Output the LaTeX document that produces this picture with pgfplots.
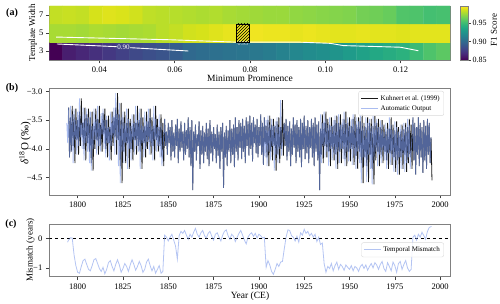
\documentclass[border=0pt]{standalone}
\usepackage{fontspec}
\setmainfont{Liberation Serif}
\usepackage{pgfplots}
\usepackage{pgfplotstable}
\pgfplotsset{compat=1.18}
\usetikzlibrary{patterns}
\definecolor{frame}{RGB}{128,128,128}
\definecolor{autoblue}{RGB}{118,148,232}

\pgfplotstableread{
x y c
0.02847 3 0.850
0.03202 3 0.862
0.03556 3 0.866
0.03911 3 0.870
0.04266 3 0.874
0.04620 3 0.878
0.04975 3 0.882
0.05330 3 0.885
0.05685 3 0.888
0.06039 3 0.893
0.06394 3 0.900
0.06749 3 0.902
0.07103 3 0.904
0.07458 3 0.906
0.07813 3 0.907
0.08167 3 0.909
0.08522 3 0.911
0.08877 3 0.915
0.09231 3 0.918
0.09586 3 0.921
0.09941 3 0.923
0.10295 3 0.926
0.10650 3 0.930
0.11005 3 0.934
0.11359 3 0.938
0.11714 3 0.941
0.12069 3 0.944
0.12423 3 0.950
0.12778 3 0.956
0.13133 3 0.960
0.02847 5 0.978
0.03202 5 0.978
0.03556 5 0.977
0.03911 5 0.979
0.04266 5 0.978
0.04620 5 0.977
0.04975 5 0.978
0.05330 5 0.979
0.05685 5 0.982
0.06039 5 0.984
0.06394 5 0.987
0.06749 5 0.988
0.07103 5 0.990
0.07458 5 0.992
0.07813 5 0.994
0.08167 5 0.994
0.08522 5 0.993
0.08877 5 0.993
0.09231 5 0.992
0.09586 5 0.993
0.09941 5 0.992
0.10295 5 0.991
0.10650 5 0.991
0.11005 5 0.992
0.11359 5 0.991
0.11714 5 0.991
0.12069 5 0.990
0.12423 5 0.991
0.12778 5 0.991
0.13133 5 0.991
0.02847 7 0.984
0.03202 7 0.985
0.03556 7 0.984
0.03911 7 0.988
0.04266 7 0.990
0.04620 7 0.989
0.04975 7 0.987
0.05330 7 0.983
0.05685 7 0.982
0.06039 7 0.981
0.06394 7 0.980
0.06749 7 0.979
0.07103 7 0.980
0.07458 7 0.978
0.07813 7 0.977
0.08167 7 0.976
0.08522 7 0.975
0.08877 7 0.975
0.09231 7 0.973
0.09586 7 0.972
0.09941 7 0.971
0.10295 7 0.970
0.10650 7 0.969
0.11005 7 0.966
0.11359 7 0.965
0.11714 7 0.963
0.12069 7 0.957
0.12423 7 0.956
0.12778 7 0.953
0.13133 7 0.954
}\heat

\pgfplotstableread[row sep=\\]{
t y s\\
1794 -3.55 0\\ 1794.5 -3.90 0\\
1795 -3.28 0\\ 1795.5 -4.15 0\\
1796 -3.45 0\\ 1796.5 -4.05 0\\
1797 -3.25 -1\\ 1797.5 -3.95 -1\\
1798 -3.40 -1\\ 1798.5 -4.25 -1\\
1799 -3.30 -1\\ 1799.5 -3.85 -1\\
1800 -3.50 -1\\ 1800.5 -4.10 -1\\
1801 -3.35 -1\\ 1801.5 -3.95 -1\\
1802 -3.12 -1\\ 1802.5 -3.80 -1\\
1803 -3.55 -1\\ 1803.5 -4.00 -1\\
1804 -3.28 -1\\ 1804.5 -4.20 -1\\
1805 -3.40 -1\\ 1805.5 -3.90 -1\\
1806 -3.30 -1\\ 1806.5 -4.05 -1\\
1807 -3.45 -1\\ 1807.5 -4.25 -1\\
1808 -3.35 -1\\ 1808.5 -4.38 -1\\
1809 -3.60 -1\\ 1809.5 -4.00 -1\\
1810 -3.30 -1\\ 1810.5 -3.85 -1\\
1811 -3.48 -1\\ 1811.5 -4.10 -1\\
1812 -3.25 -1\\ 1812.5 -3.95 -1\\
1813 -3.55 -1\\ 1813.5 -4.05 -1\\
1814 -3.38 -1\\ 1814.5 -3.75 -1\\
1815 -3.30 -1\\ 1815.5 -4.00 -1\\
1816 -3.50 -1\\ 1816.5 -4.15 -1\\
1817 -3.42 -1\\ 1817.5 -3.90 -1\\
1818 -3.62 -1\\ 1818.5 -4.20 -1\\
1819 -3.35 -1\\ 1819.5 -3.95 -1\\
1820 -3.45 -1\\ 1820.5 -3.80 -1\\
1821 -3.28 -1\\ 1821.5 -4.10 -1\\
1822 -3.03 -1\\ 1822.5 -3.85 -1\\
1823 -3.40 -1\\ 1823.5 -4.30 -1\\
1824 -3.20 -1\\ 1824.5 -4.60 -1\\
1825 -3.45 -1\\ 1825.5 -4.05 -1\\
1826 -3.35 -1\\ 1826.5 -4.25 -1\\
1827 -3.55 -1\\ 1827.5 -3.90 -1\\
1828 -3.30 -1\\ 1828.5 -4.35 -1\\
1829 -3.48 -1\\ 1829.5 -4.00 -1\\
1830 -3.60 -1\\ 1830.5 -4.20 -1\\
1831 -3.40 -1\\ 1831.5 -3.85 -1\\
1832 -3.55 -1\\ 1832.5 -4.10 -1\\
1833 -3.25 -1\\ 1833.5 -3.95 -1\\
1834 -3.50 -1\\ 1834.5 -4.05 -1\\
1835 -3.30 -1\\ 1835.5 -4.35 -1\\
1836 -3.45 -1\\ 1836.5 -3.90 -1\\
1837 -3.60 -1\\ 1837.5 -4.15 -1\\
1838 -3.35 -1\\ 1838.5 -4.00 -1\\
1839 -3.52 -1\\ 1839.5 -3.88 -1\\
1840 -3.30 -1\\ 1840.5 -4.10 -1\\
1841 -3.45 -1\\ 1841.5 -3.95 -1\\
1842 -3.60 -1\\ 1842.5 -4.20 -1\\
1843 -3.25 -1\\ 1843.5 -3.85 -1\\
1844 -3.48 -1\\ 1844.5 -4.05 -1\\
1845 -3.62 -1\\ 1845.5 -3.95 -1\\
1846 -3.40 -1\\ 1846.5 -4.15 -1\\
1847 -3.55 -1\\ 1847.5 -4.30 -1\\
1848 -3.48 0\\ 1848.5 -3.95 0\\
1849 -3.70 0\\ 1849.5 -4.10 0\\
1850 -3.55 0\\ 1850.5 -3.90 0\\
1851 -3.62 0\\ 1851.5 -4.20 0\\
1852 -3.50 0\\ 1852.5 -4.05 0\\
1853 -3.72 0\\ 1853.5 -4.15 0\\
1854 -3.58 0\\ 1854.5 -3.95 0\\
1855 -3.48 0\\ 1855.5 -4.25 0\\
1856 -3.65 0\\ 1856.5 -4.05 0\\
1857 -3.52 0\\ 1857.5 -3.98 0\\
1858 -3.70 0\\ 1858.5 -4.20 0\\
1859 -3.55 0\\ 1859.5 -4.10 0\\
1860 -3.68 0\\ 1860.5 -4.00 0\\
1861 -3.45 0\\ 1861.5 -4.15 0\\
1862 -3.62 0\\ 1862.5 -4.30 0\\
1863 -3.50 0\\ 1863.5 -4.72 0\\
1864 -3.70 0\\ 1864.5 -4.05 0\\
1865 -3.58 0\\ 1865.5 -4.20 0\\
1866 -3.75 0\\ 1866.5 -3.95 0\\
1867 -3.52 0\\ 1867.5 -4.35 0\\
1868 -3.68 0\\ 1868.5 -4.10 0\\
1869 -3.60 0\\ 1869.5 -4.25 0\\
1870 -3.72 0\\ 1870.5 -4.05 0\\
1871 -3.55 0\\ 1871.5 -4.18 0\\
1872 -3.65 0\\ 1872.5 -4.30 0\\
1873 -3.50 0\\ 1873.5 -4.08 0\\
1874 -3.70 0\\ 1874.5 -4.22 0\\
1875 -3.62 0\\ 1875.5 -4.00 0\\
1876 -3.75 0\\ 1876.5 -4.25 0\\
1877 -3.58 0\\ 1877.5 -4.12 0\\
1878 -3.70 0\\ 1878.5 -4.35 0\\
1879 -3.62 0\\ 1879.5 -4.05 0\\
1880 -3.55 0\\ 1880.5 -4.68 0\\
1881 -3.72 0\\ 1881.5 -4.15 0\\
1882 -3.60 0\\ 1882.5 -4.30 0\\
1883 -3.68 0\\ 1883.5 -4.05 0\\
1884 -3.50 0\\ 1884.5 -4.25 0\\
1885 -3.65 0\\ 1885.5 -4.10 0\\
1886 -3.58 0\\ 1886.5 -4.32 0\\
1887 -3.45 0\\ 1887.5 -4.05 0\\
1888 -3.62 0\\ 1888.5 -4.20 0\\
1889 -3.50 0\\ 1889.5 -3.98 0\\
1890 -3.55 0\\ 1890.5 -4.18 0\\
1891 -3.48 0\\ 1891.5 -4.05 0\\
1892 -3.60 0\\ 1892.5 -4.25 0\\
1893 -3.45 0\\ 1893.5 -3.95 0\\
1894 -3.52 0\\ 1894.5 -4.12 0\\
1895 -3.42 0\\ 1895.5 -4.00 0\\
1896 -3.55 0\\ 1896.5 -4.22 0\\
1897 -3.45 0\\ 1897.5 -3.90 0\\
1898 -3.58 0\\ 1898.5 -4.08 0\\
1899 -3.48 0\\ 1899.5 -4.15 0\\
1900 -3.62 0\\ 1900.5 -3.95 0\\
1901 -3.40 0\\ 1901.5 -4.10 0\\
1902 -3.55 0\\ 1902.5 -4.28 0\\
1903 -3.45 0\\ 1903.5 -3.92 0\\
1904 -3.60 -1\\ 1904.5 -4.15 -1\\
1905 -3.50 -1\\ 1905.5 -4.30 -1\\
1906 -3.42 -1\\ 1906.5 -4.05 -1\\
1907 -3.58 -1\\ 1907.5 -4.20 -1\\
1908 -3.48 -1\\ 1908.5 -3.95 -1\\
1909 -3.60 -1\\ 1909.5 -4.38 -1\\
1910 -3.52 -1\\ 1910.5 -4.10 -1\\
1911 -3.45 -1\\ 1911.5 -4.25 -1\\
1912 -3.62 -1\\ 1912.5 -4.00 -1\\
1913 -3.15 -1\\ 1913.5 -4.12 -1\\
1914 -3.55 0\\ 1914.5 -3.95 0\\
1915 -3.48 0\\ 1915.5 -4.20 0\\
1916 -3.60 0\\ 1916.5 -4.05 0\\
1917 -3.52 0\\ 1917.5 -4.30 0\\
1918 -3.65 0\\ 1918.5 -4.10 0\\
1919 -3.45 0\\ 1919.5 -3.98 0\\
1920 -3.58 0\\ 1920.5 -4.25 0\\
1921 -3.50 0\\ 1921.5 -4.05 0\\
1922 -3.62 0\\ 1922.5 -4.15 0\\
1923 -3.48 0\\ 1923.5 -4.32 0\\
1924 -3.55 0\\ 1924.5 -4.00 0\\
1925 -3.42 0\\ 1925.5 -4.18 0\\
1926 -3.60 0\\ 1926.5 -4.08 0\\
1927 -3.50 0\\ 1927.5 -4.25 0\\
1928 -3.62 0\\ 1928.5 -3.98 0\\
1929 -3.48 0\\ 1929.5 -4.15 0\\
1930 -3.55 0\\ 1930.5 -4.30 0\\
1931 -3.45 0\\ 1931.5 -4.05 0\\
1932 -3.58 0\\ 1932.5 -4.20 0\\
1933 -3.52 0\\ 1933.5 -4.72 0\\
1934 -3.65 0\\ 1934.5 -4.10 0\\
1935 -3.40 -1\\ 1935.5 -4.25 -1\\
1936 -3.55 -1\\ 1936.5 -3.95 -1\\
1937 -3.35 -1\\ 1937.5 -4.15 -1\\
1938 -3.48 -1\\ 1938.5 -4.05 -1\\
1939 -3.58 -1\\ 1939.5 -4.30 -1\\
1940 -3.45 -1\\ 1940.5 -4.00 -1\\
1941 -3.60 -1\\ 1941.5 -4.20 -1\\
1942 -3.50 -1\\ 1942.5 -4.10 -1\\
1943 -3.42 -1\\ 1943.5 -4.35 -1\\
1944 -3.55 -1\\ 1944.5 -4.05 -1\\
1945 -3.40 -1\\ 1945.5 -4.25 -1\\
1946 -3.58 -1\\ 1946.5 -4.00 -1\\
1947 -3.48 -1\\ 1947.5 -4.18 -1\\
1948 -3.35 -1\\ 1948.5 -4.30 -1\\
1949 -3.55 -1\\ 1949.5 -4.05 -1\\
1950 -3.45 -1\\ 1950.5 -4.22 -1\\
1951 -3.60 -1\\ 1951.5 -4.00 -1\\
1952 -3.48 -1\\ 1952.5 -4.28 -1\\
1953 -3.40 -1\\ 1953.5 -4.12 -1\\
1954 -3.58 -1\\ 1954.5 -4.35 -1\\
1955 -3.45 -1\\ 1955.5 -4.05 -1\\
1956 -3.52 -1\\ 1956.5 -4.25 -1\\
1957 -3.40 -1\\ 1957.5 -4.60 -1\\
1958 -3.55 -1\\ 1958.5 -4.15 -1\\
1959 -3.62 -1\\ 1959.5 -4.30 -1\\
1960 -3.45 -1\\ 1960.5 -4.58 -1\\
1961 -3.55 -1\\ 1961.5 -4.10 -1\\
1962 -3.48 -1\\ 1962.5 -4.35 -1\\
1963 -3.60 -1\\ 1963.5 -4.62 -1\\
1964 -3.42 -1\\ 1964.5 -4.20 -1\\
1965 -3.55 -1\\ 1965.5 -4.05 -1\\
1966 -3.48 -1\\ 1966.5 -4.30 -1\\
1967 -3.62 -1\\ 1967.5 -4.10 -1\\
1968 -3.50 -1\\ 1968.5 -4.25 -1\\
1969 -3.58 -1\\ 1969.5 -4.05 -1\\
1970 -3.70 -1\\ 1970.5 -4.20 -1\\
1971 -3.55 -1\\ 1971.5 -4.35 -1\\
1972 -3.65 -1\\ 1972.5 -4.08 -1\\
1973 -3.45 -1\\ 1973.5 -4.28 -1\\
1974 -3.58 -1\\ 1974.5 -4.15 -1\\
1975 -3.68 -1\\ 1975.5 -4.40 -1\\
1976 -3.52 -1\\ 1976.5 -4.20 -1\\
1977 -3.62 -1\\ 1977.5 -4.45 -1\\
1978 -3.70 -1\\ 1978.5 -4.15 -1\\
1979 -3.58 -1\\ 1979.5 -4.35 -1\\
1980 -3.66 -1\\ 1980.5 -4.10 -1\\
1981 -3.55 -1\\ 1981.5 -4.40 -1\\
1982 -3.62 -1\\ 1982.5 -4.25 -1\\
1983 -3.48 -1\\ 1983.5 -4.15 -1\\
1984 -3.58 -1\\ 1984.5 -4.35 -1\\
1985 -3.45 0\\ 1985.5 -4.20 0\\
1986 -3.55 0\\ 1986.5 -4.45 0\\
1987 -3.62 0\\ 1987.5 -4.10 0\\
1988 -3.45 0\\ 1988.5 -4.30 0\\
1989 -3.55 0\\ 1989.5 -4.15 0\\
1990 -3.62 0\\ 1990.5 -4.42 0\\
1991 -3.50 0\\ 1991.5 -4.20 0\\
1992 -3.60 0\\ 1992.5 -4.35 0\\
1993 -3.48 0\\ 1993.5 -4.10 0\\
1994 -3.55 0\\ 1994.5 -4.25 0\\
1995 -3.80 0\\ 1995.5 -4.55 0\\
}\coral

\pgfplotstableread[row sep=\\]{
t m\\
1794.4 -0.12\\ 1795 -0.05\\ 1796 0.03\\ 1797 0.02\\ 1798 -0.55\\ 1799 -0.92\\
1800 -1.15\\ 1801 -1.18\\ 1802 -0.95\\ 1803 -0.75\\ 1804 -0.70\\ 1805 -0.88\\
1806 -1.05\\ 1807 -1.10\\ 1808 -0.92\\ 1809 -0.72\\ 1810 -0.68\\ 1811 -0.85\\
1812 -1.02\\ 1813 -1.12\\ 1814 -0.98\\ 1815 -1.20\\ 1816 -1.05\\ 1817 -0.82\\
1818 -0.75\\ 1819 -0.95\\ 1820 -1.10\\ 1821 -0.88\\ 1822 -0.72\\ 1823 -0.90\\
1824 -1.15\\ 1825 -1.02\\ 1826 -0.85\\ 1827 -0.95\\ 1828 -1.12\\ 1829 -0.90\\
1830 -0.72\\ 1831 -0.88\\ 1832 -1.08\\ 1833 -0.95\\ 1834 -0.78\\ 1835 -0.92\\
1836 -1.15\\ 1837 -1.05\\ 1838 -0.80\\ 1839 -0.70\\ 1840 -0.92\\ 1841 -1.10\\
1842 -0.95\\ 1843 -1.18\\ 1844 -1.05\\ 1845 -0.92\\ 1846 -1.18\\ 1847 -1.12\\
1848 0.12\\ 1849 0.05\\ 1850 -0.08\\ 1851 0.05\\ 1852 0.15\\ 1853 -0.05\\
1854 -0.25\\ 1855 -0.70\\ 1856 0.10\\ 1857 0.25\\ 1858 0.18\\ 1859 0.28\\
1860 0.12\\ 1861 -0.02\\ 1862 0.15\\ 1863 0.05\\ 1864 0.22\\ 1865 0.35\\
1866 0.15\\ 1867 0.05\\ 1868 0.20\\ 1869 0.28\\ 1870 0.10\\ 1871 0.02\\
1872 0.18\\ 1873 0.25\\ 1874 0.08\\ 1875 -0.05\\ 1876 0.15\\ 1877 0.20\\
1878 0.05\\ 1879 -0.08\\ 1880 0.12\\ 1881 0.25\\ 1882 0.30\\ 1883 0.10\\
1884 -0.02\\ 1885 0.15\\ 1886 0.08\\ 1887 -0.10\\ 1888 0.05\\ 1889 0.18\\
1890 0.28\\ 1891 0.12\\ 1892 -0.05\\ 1893 -0.18\\ 1894 0.05\\ 1895 0.15\\
1896 0.20\\ 1897 0.08\\ 1898 0.18\\ 1899 0.02\\ 1900 0.15\\ 1901 0.10\\
1902 0.02\\ 1903 0.05\\ 1904 -0.98\\ 1905 -0.75\\ 1906 -0.90\\ 1907 -1.12\\
1908 -1.22\\ 1909 -1.05\\ 1910 -0.85\\ 1911 -0.95\\ 1912 -0.80\\ 1913 -0.78\\
1914 -0.35\\ 1915 0.05\\ 1916 0.30\\ 1917 0.28\\ 1918 0.10\\ 1919 0.05\\
1920 -0.08\\ 1921 0.08\\ 1922 -0.12\\ 1923 0.20\\ 1924 0.12\\ 1925 0.32\\
1926 0.18\\ 1927 0.25\\ 1928 0.10\\ 1929 0.18\\ 1930 0.05\\ 1931 0.15\\
1932 -0.10\\ 1933 0.05\\ 1934 -0.20\\ 1935 -0.15\\ 1936 -0.85\\ 1937 -1.15\\
1938 -0.95\\ 1939 -1.02\\ 1940 -0.85\\ 1941 -1.10\\ 1942 -0.92\\ 1943 -0.80\\
1944 -1.05\\ 1945 -0.88\\ 1946 -0.95\\ 1947 -1.08\\ 1948 -0.90\\ 1949 -0.98\\
1950 -1.05\\ 1951 -0.92\\ 1952 -1.10\\ 1953 -0.95\\ 1954 -1.00\\ 1955 -1.12\\
1956 -0.95\\ 1957 -0.88\\ 1958 -1.02\\ 1959 -0.90\\ 1960 -1.08\\ 1961 -0.95\\
1962 -0.85\\ 1963 -1.00\\ 1964 -0.82\\ 1965 -0.90\\ 1966 -1.05\\ 1967 -0.88\\
1968 -0.78\\ 1969 -1.02\\ 1970 -1.12\\ 1971 -0.82\\ 1972 -0.95\\ 1973 -1.10\\
1974 -0.80\\ 1975 -0.92\\ 1976 -1.15\\ 1977 -0.85\\ 1978 -0.78\\ 1979 -1.05\\
1980 -0.88\\ 1981 -0.75\\ 1982 -1.00\\ 1983 -1.12\\ 1984 -1.05\\ 1985 0.05\\
1986 0.12\\ 1987 -0.05\\ 1988 0.15\\ 1989 0.05\\ 1990 0.22\\ 1991 0.10\\
1992 -0.02\\ 1993 0.25\\ 1994 0.38\\ 1995.2 0.42\\
}\mismatch

\pgfplotsset{
  panel/.style={
    scale only axis, width=400.7pt,
    axis line style={frame, line width=0.7pt},
    tick align=outside, xtick pos=bottom, ytick pos=left,
    major tick length=3.5pt,
    every tick/.style={black!75, line width=0.6pt},
    tick label style={font=\fontsize{8.5}{9}\selectfont},
    clip=true,
  },
}

\begin{document}
\begin{tikzpicture}
\path[use as bounding box] (0,0) rectangle (500pt,-304pt);

% ---------- (a) heatmap ----------
\begin{axis}[panel,
  at={(49.3pt,-60pt)}, anchor=south west, height=54pt,
  xmin=0.0267, xmax=0.1331, ymin=2, ymax=8,
  xtick={0.04,0.06,0.08,0.10,0.12},
  xticklabels={0.04,0.06,0.08,0.10,0.12},
  ytick={3,5,7}, yticklabels={3,5,7},
  yticklabel style={xshift=1pt},
  colormap/viridis, point meta min=0.85, point meta max=0.997,
  colorbar,
  colorbar style={
    scale only axis, width=8pt, height=54pt,
    at={(parent axis.north east)}, anchor=north west, xshift=1.5pt,
    axis line style={frame, line width=0.7pt},
    ytick={0.85,0.90,0.95}, yticklabels={0.85,0.90,0.95},
    ytick pos=right, yticklabel pos=right,
    tick align=outside, major tick length=3pt,
    every tick/.style={black!75, line width=0.6pt},
    yticklabel style={font=\fontsize{8}{9}\selectfont, xshift=-2pt},
  },
]
\addplot[matrix plot*, mesh/cols=30, mesh/rows=3, point meta=explicit]
  table[x=x, y=y, meta=c] {\heat};
% contour lines
\addplot[white, line width=0.9pt, no markers] coordinates {
 (0.0285,4.55) (0.0588,4.25) (0.0765,3.98) (0.0933,3.98) (0.1013,3.85) (0.1048,3.60) (0.1199,3.42) (0.1247,3.03)};
\addplot[white, line width=0.9pt, no markers] coordinates {(0.0287,3.78) (0.0446,3.48)};
\addplot[white, line width=0.9pt, no markers] coordinates {(0.0482,3.37) (0.0636,3.00)};
\node[white, font=\fontsize{7}{8}\selectfont] at (axis cs:0.0464,3.42) {0.90};
\node[white!85!black, font=\fontsize{6}{7}\selectfont] at (axis cs:0.0781,3.86) {0.95};
\draw[black, line width=0.8pt, pattern=north east lines, pattern color=black]
  (axis cs:0.07636,4) rectangle (axis cs:0.07990,6);
\end{axis}

% ---------- (b) coral series ----------
\begin{axis}[panel,
  at={(49.3pt,-195pt)}, anchor=south west, height=106.7pt,
  xmin=1784.35, xmax=2005.45, ymin=-4.805, ymax=-2.945,
  xtick={1800,1825,1850,1875,1900,1925,1950,1975,2000},
  xticklabels={1800,1825,1850,1875,1900,1925,1950,1975,2000},
  ytick={-4.5,-4,-3.5,-3},
  yticklabels={−4.5,−4.0,−3.5,−3.0},
  legend style={at={(0.985,0.975)}, anchor=north east, draw=black!15, rounded corners=2pt,
    fill=white, fill opacity=0.85, text opacity=1,
    font=\fontsize{7}{8.5}\selectfont, inner sep=2pt},
  legend cell align=left,
]
\addplot[black!90, line width=0.8pt, no markers, restrict x to domain=1794.9:1996]
  table[x=t, y=y] {\coral};
\addlegendentry{Kuhnert et al. (1999)}
\addplot[autoblue, opacity=0.62, line width=0.8pt, no markers, restrict x to domain=1794:1995.0]
  table[x expr=\thisrow{t}+\thisrow{s}, y=y] {\coral};
\addlegendentry{Automatic Output}
\end{axis}

% ---------- (c) mismatch ----------
\begin{axis}[panel,
  at={(49.3pt,-276.7pt)}, anchor=south west, height=52.7pt,
  xmin=1784.35, xmax=2005.45, ymin=-1.30, ymax=0.50,
  xtick={1800,1825,1850,1875,1900,1925,1950,1975,2000},
  xticklabels={1800,1825,1850,1875,1900,1925,1950,1975,2000},
  ytick={-1,0}, yticklabels={−1,0},
  legend style={at={(0.985,0.51)}, anchor=east, draw=black!15, rounded corners=2pt,
    fill=white, fill opacity=0.85, text opacity=1,
    font=\fontsize{7}{8.5}\selectfont, inner sep=2pt},
  legend cell align=left,
]
\addplot[black, dashed, line width=0.6pt, forget plot] coordinates {(1784.35,0) (2005.45,0)};
\addplot[autoblue, opacity=0.55, line width=0.8pt, no markers] table[x=t, y=m] {\mismatch};
\addlegendentry{Temporal Mismatch}
\end{axis}

% ---------- labels ----------
\node[font=\bfseries\fontsize{10}{12}\selectfont] at (12pt,-13pt) {(a)};
\node[font=\bfseries\fontsize{10}{12}\selectfont] at (12pt,-88pt) {(b)};
\node[font=\bfseries\fontsize{10}{12}\selectfont] at (11pt,-224pt) {(c)};
\node[rotate=90, font=\fontsize{9}{10}\selectfont, inner sep=0pt] at (33pt,-33pt) {Template Width};
\node[font=\fontsize{9.5}{10}\selectfont, inner sep=0pt] at (250pt,-78.5pt) {Minimum Prominence};
\node[rotate=90, font=\fontsize{9}{10}\selectfont, inner sep=0pt] at (494pt,-30pt) {F1 Score};
\node[rotate=90, font=\fontsize{11}{12}\selectfont, inner sep=0pt] at (25pt,-143pt) {{\itshape δ}\textsuperscript{18}O (‰)};
\node[rotate=90, font=\fontsize{9}{10}\selectfont, inner sep=0pt] at (30.5pt,-250pt) {Mismatch (years)};
\node[font=\fontsize{9.5}{10}\selectfont, inner sep=0pt] at (250pt,-296pt) {Year (CE)};
\end{tikzpicture}
\end{document}
